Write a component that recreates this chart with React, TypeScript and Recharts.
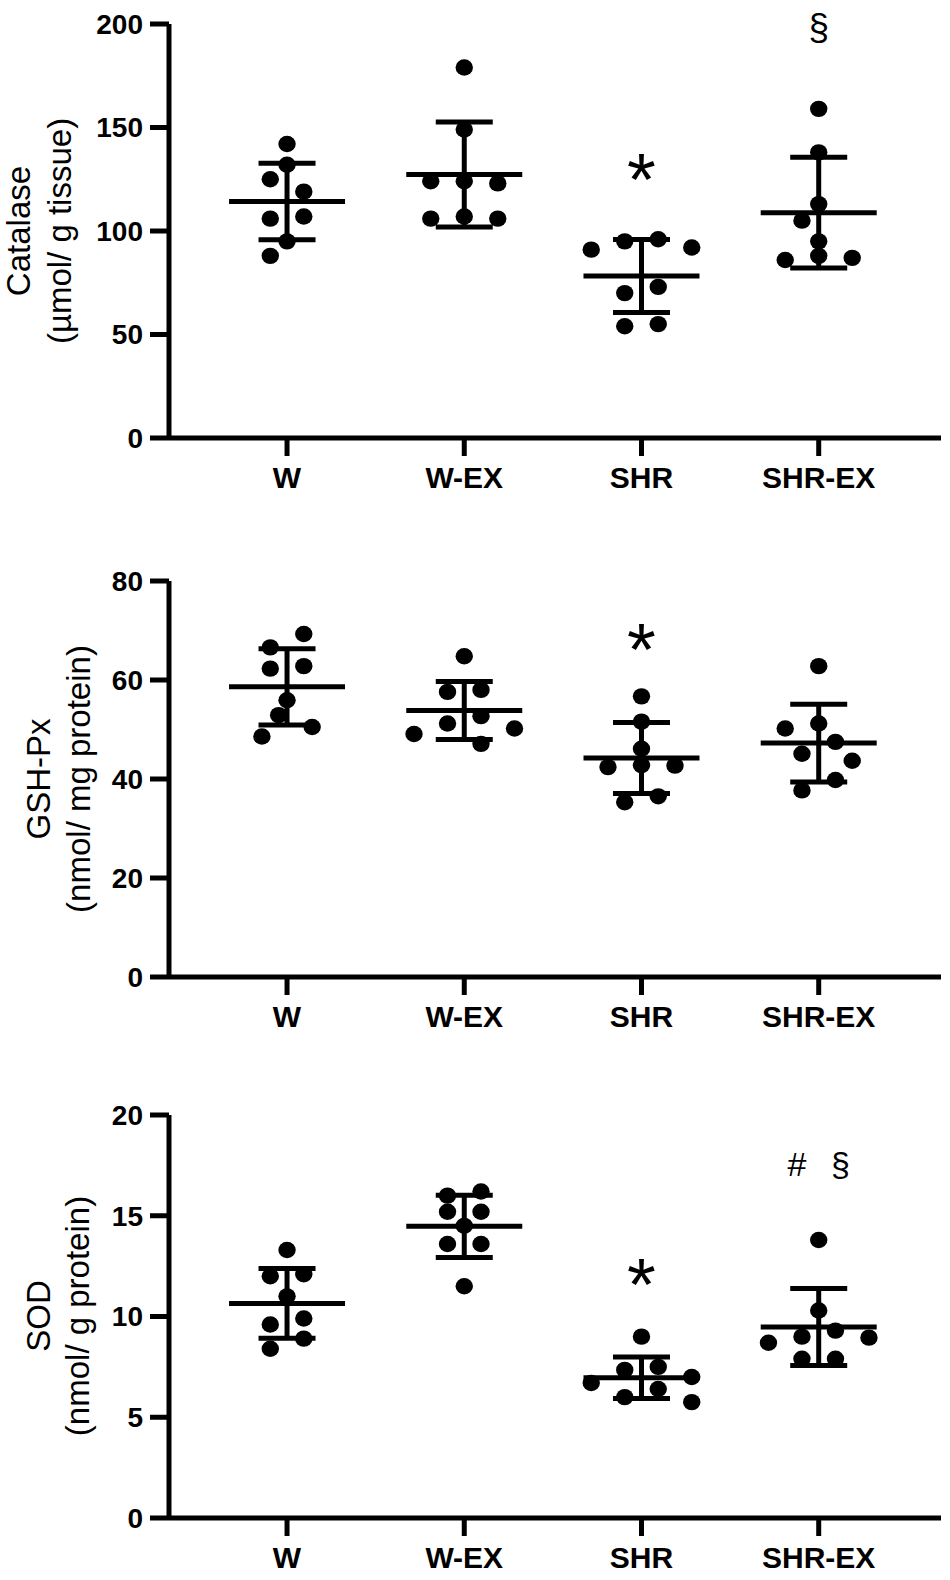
import React from 'react';
import { ScatterChart, Scatter, XAxis, YAxis, ErrorBar } from 'recharts';

// ---------- data ----------
const groups = ['W', 'W-EX', 'SHR', 'SHR-EX'];

const catalaseW = [142, 132, 125, 119, 107, 106, 95, 88];
const catalaseWEX = [179, 149, 124, 123, 124, 107, 106, 106];
const catalaseSHR = [95, 96, 92, 91, 73, 70, 55, 54];
const catalaseSHREX = [159, 138, 113, 105, 95, 88, 87, 86];

const gshW = [69.3, 66.6, 62.8, 62.3, 55.9, 52.9, 50.5, 48.6];
const gshWEX = [64.8, 58.0, 57.6, 52.7, 51.2, 50.2, 49.1, 47.1];
const gshSHR = [56.7, 51.6, 46.1, 42.8, 42.7, 42.4, 36.5, 35.3];
const gshSHREX = [62.8, 51.2, 50.2, 47.5, 45.1, 43.7, 39.8, 37.7];

const sodW = [13.3, 12.1, 12.0, 11.0, 9.9, 9.6, 8.9, 8.4];
const sodWEX = [16.2, 16.0, 15.2, 15.2, 14.5, 13.6, 13.6, 11.5];
const sodSHR = [9.0, 7.5, 7.35, 7.0, 6.7, 6.4, 6.0, 5.75];
const sodSHREX = [13.8, 10.3, 9.3, 9.0, 8.95, 8.7, 7.9, 7.9];

const catalaseTicks = [0, 50, 100, 150, 200];
const gshTicks = [0, 20, 40, 60, 80];
const sodTicks = [0, 5, 10, 15, 20];

const catalaseMarks = [
  { group: 'SHR', value: 133, text: '*' },
  { group: 'SHR-EX', value: 197, text: '§' },
];
const gshMarks = [{ group: 'SHR', value: 69.5, text: '*' }];
const sodMarks = [
  { group: 'SHR', value: 12.4, text: '*' },
  { group: 'SHR-EX', value: 17.5, text: '# §' },
];

const catalaseTitle = ['Catalase', '(µmol/ g tissue)'];
const gshTitle = ['GSH-Px', '(nmol/ mg protein)'];
const sodTitle = ['SOD', '(nmol/ g protein)'];

// ---------- layout / style ----------
const FONT = '"Liberation Sans", Arial, Helvetica, sans-serif';
const CHART_W = 950;
const PLOT_LEFT = 169;
const RIGHT_MARGIN = 9;
const X_DOMAIN = [0.334, 4.69];
const PLOT_W = CHART_W - PLOT_LEFT - RIGHT_MARGIN;
const PX_PER_GROUP = PLOT_W / (X_DOMAIN[1] - X_DOMAIN[0]);
const COL_PX = 33.5; // spacing between dot columns
const LINE_W = 5;

type SwarmPt = { v: number; py: number; s: number; r: number };

// beeswarm layout (Prism-like): returns column offsets in units of COL_PX
function swarm(values: number[], pxPerUnit: number) {
  const D_SAME = 22; // min distance between dots in the same row
  const D_CROSS = 19; // min distance to dots of earlier rows
  const ROW_GAP = 14;
  const MIN_GAP = 14;
  const sorted = [...values].sort((a, b) => b - a);
  const placed: SwarmPt[] = [];
  let row: SwarmPt[] = [];
  let rowId = 0;
  const dist = (o: SwarmPt, s: number, py: number) => Math.hypot((o.s - s) * COL_PX, o.py - py);
  const blocked = (s: number, py: number) =>
    placed.some((o) => dist(o, s, py) < (o.r === rowId ? D_SAME : D_CROSS));
  const flush = () => {
    if (row.length > 1) {
      const ss = row.map((p) => p.s);
      const shift = -(Math.min(...ss) + Math.max(...ss)) / 2;
      const others = placed.filter((p) => p.r !== rowId);
      if (shift !== 0 && row.every((p) => !others.some((o) => dist(o, p.s + shift, p.py) < MIN_GAP))) {
        row.forEach((p) => {
          p.s += shift;
        });
      }
    }
    row = [];
    rowId += 1;
  };
  sorted.forEach((v) => {
    const py = -v * pxPerUnit;
    if (row.length && py - row[row.length - 1].py >= ROW_GAP) flush();
    let s = 0;
    for (let k = 0; k < 60; k++) {
      const c = k === 0 ? 0 : (k % 2 ? -1 : 1) * Math.ceil(k / 2) * 0.5;
      if (!blocked(c, py)) {
        s = c;
        break;
      }
    }
    const p = { v, py, s, r: rowId };
    placed.push(p);
    row.push(p);
  });
  flush();
  return placed;
}

const mean = (a: number[]) => a.reduce((s, v) => s + v, 0) / a.length;
const sd = (a: number[]) => {
  const m = mean(a);
  return Math.sqrt(a.reduce((s, v) => s + (v - m) * (v - m), 0) / (a.length - 1));
};

const DotShape = (props: any) => {
  const { cx, cy } = props;
  if (cx == null || cy == null) return null;
  return <ellipse cx={cx} cy={cy} rx={8.7} ry={8.2} fill="#000" />;
};

const MeanShape = (props: any) => {
  const { cx, cy } = props;
  if (cx == null || cy == null) return null;
  return <line x1={cx - 58} x2={cx + 58} y1={cy} y2={cy} stroke="#000" strokeWidth={LINE_W} />;
};

const MarkShape = (props: any) => {
  const { cx, cy, payload } = props;
  if (cx == null || cy == null) return null;
  const t = payload.text;
  let fs = 34;
  let k = 0.3;
  let extra: any = {};
  if (t === '*') {
    fs = 74;
    k = 0.57;
  } else if (t === '§') {
    fs = 37;
    k = 0.26;
  } else {
    fs = 34;
    k = 0.3;
    extra = { wordSpacing: 15 };
  }
  return (
    <text
      x={cx}
      y={cy + k * fs}
      textAnchor="middle"
      fontFamily={FONT}
      fontSize={fs}
      fill="#000"
      style={extra}
    >
      {t}
    </text>
  );
};

type PanelProps = {
  top: number;
  height: number;
  marginTop: number;
  plotHeight: number;
  yMax: number;
  ticks: number[];
  series: number[][];
  marks: { group: string; value: number; text: string }[];
};

function Panel({ top, height, marginTop, plotHeight, yMax, ticks, series, marks }: PanelProps) {
  const pxPerUnit = plotHeight / yMax;
  const xAxisHeight = height - marginTop - plotHeight;
  const dots: { x: number; y: number }[] = [];
  series.forEach((vals, i) => {
    swarm(vals, pxPerUnit).forEach((p) => {
      dots.push({ x: i + 1 + (p.s * COL_PX) / PX_PER_GROUP, y: p.v });
    });
  });
  const summary = series.map((vals, i) => ({ x: i + 1, y: mean(vals), sd: sd(vals) }));
  const markData = marks.map((m) => ({ x: groups.indexOf(m.group) + 1, y: m.value, text: m.text }));

  return (
    <div style={{ position: 'absolute', left: 0, top, width: CHART_W, height }}>
      <ScatterChart
        width={CHART_W}
        height={height}
        margin={{ top: marginTop, right: RIGHT_MARGIN, bottom: 0, left: 0 }}
      >
        <XAxis
          type="number"
          dataKey="x"
          domain={X_DOMAIN}
          ticks={[1, 2, 3, 4]}
          interval={0}
          tickFormatter={(v: number) => groups[v - 1]}
          height={xAxisHeight}
          axisLine={{ stroke: '#000', strokeWidth: LINE_W }}
          tickLine={{ stroke: '#000', strokeWidth: LINE_W }}
          tickSize={18}
          tickMargin={11}
          tick={{ fill: '#000', fontSize: 30, fontWeight: 700, fontFamily: FONT }}
        />
        <YAxis
          type="number"
          dataKey="y"
          domain={[0, yMax]}
          ticks={ticks}
          interval={0}
          width={PLOT_LEFT}
          axisLine={{ stroke: '#000', strokeWidth: LINE_W }}
          tickLine={{ stroke: '#000', strokeWidth: LINE_W }}
          tickSize={19}
          tickMargin={7}
          tick={{ fill: '#000', fontSize: 28, fontWeight: 700, fontFamily: FONT }}
        />
        <Scatter data={dots} shape={DotShape} isAnimationActive={false} />
        <Scatter data={summary} shape={MeanShape} isAnimationActive={false}>
          <ErrorBar
            dataKey="sd"
            direction="y"
            width={28.5}
            strokeWidth={LINE_W}
            stroke="#000"
            isAnimationActive={false}
          />
        </Scatter>
        <Scatter data={markData} shape={MarkShape} isAnimationActive={false} />
      </ScatterChart>
    </div>
  );
}

function Title({ lines, cy, x1, x2 }: { lines: string[]; cy: number; x1: number; x2: number }) {
  return (
    <g fontFamily={FONT} fontSize={33} fill="#000">
      <text x={x1} y={cy} textAnchor="middle" transform={`rotate(-90 ${x1} ${cy})`}>
        {lines[0]}
      </text>
      <text x={x2} y={cy} textAnchor="middle" transform={`rotate(-90 ${x2} ${cy})`}>
        {lines[1]}
      </text>
    </g>
  );
}

export default function App() {
  return (
    <div
      style={{
        position: 'absolute',
        left: 0,
        top: 0,
        width: 950,
        height: 1580,
        background: '#fff',
        overflow: 'hidden',
      }}
    >
      <Panel
        top={0}
        height={520}
        marginTop={24}
        plotHeight={414}
        yMax={200}
        ticks={catalaseTicks}
        series={[catalaseW, catalaseWEX, catalaseSHR, catalaseSHREX]}
        marks={catalaseMarks}
      />
      <Panel
        top={530}
        height={530}
        marginTop={51}
        plotHeight={396}
        yMax={80}
        ticks={gshTicks}
        series={[gshW, gshWEX, gshSHR, gshSHREX]}
        marks={gshMarks}
      />
      <Panel
        top={1070}
        height={510}
        marginTop={45}
        plotHeight={403}
        yMax={20}
        ticks={sodTicks}
        series={[sodW, sodWEX, sodSHR, sodSHREX]}
        marks={sodMarks}
      />
      <svg
        width={950}
        height={1580}
        style={{ position: 'absolute', left: 0, top: 0, pointerEvents: 'none' }}
      >
        <Title lines={catalaseTitle} cy={231} x1={30} x2={71} />
        <Title lines={gshTitle} cy={779} x1={50} x2={90} />
        <Title lines={sodTitle} cy={1316} x1={50} x2={89} />
      </svg>
    </div>
  );
}
